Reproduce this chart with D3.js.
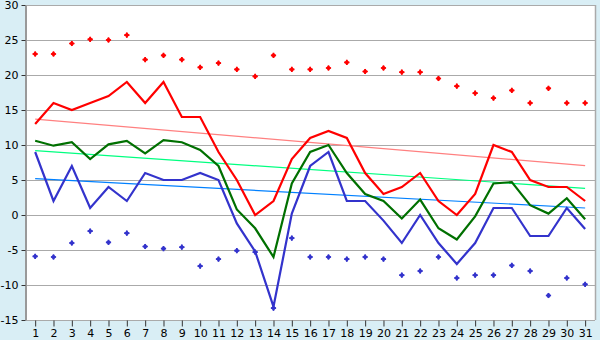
<!DOCTYPE html>
<html><head><meta charset="utf-8">
<script src="https://cdn.jsdelivr.net/npm/d3@7"></script>
<style>
html,body{margin:0;padding:0;background:#d9eef5;}
svg{display:block;}
text{font-family:"DejaVu Sans",Verdana,sans-serif;font-size:11px;fill:#000;}
</style></head><body>
<svg id="c" width="600" height="340"></svg>
<script>
const days = d3.range(1, 32);
const yTicks = [-15, -10, -5, 0, 5, 10, 15, 20, 25, 30];
const maxTemp = [13,16,15,16,17,19,16,19,14,14,9,5,0,2,8,11,12,11,6,3,4,6,2,0,3,10,9,5,4,4,2];
const meanTemp = [10.6,9.9,10.4,8,10.1,10.6,8.8,10.7,10.4,9.3,7,0.8,-1.9,-6,4.5,9,10,6,3,2,-0.5,2.2,-1.9,-3.5,-0.2,4.5,4.7,1.4,0.2,2.4,-0.6];
const minTemp = [9,2,7,1,4,2,6,5,5,6,5,-1.2,-5.2,-13.1,0.2,7,9,2,2,-0.8,-4,0,-4,-7,-4,1,1,-3,-3,1,-2];
const recordMax = [23,23,24.5,25.1,25,25.7,22.2,22.8,22.2,21.1,21.7,20.8,19.8,22.8,20.8,20.8,21,21.8,20.5,21,20.4,20.4,19.5,18.4,17.4,16.7,17.8,16,18.1,16,16];
const recordMin = [-5.9,-6,-4,-2.3,-3.9,-2.6,-4.5,-4.8,-4.6,-7.3,-6.3,-5.1,-5.3,-13.3,-3.3,-6,-6,-6.3,-6,-6.3,-8.6,-8,-6,-9,-8.6,-8.6,-7.2,-8,-11.5,-9,-9.9];
const trendMax = [13.7, 7.05];
const trendMean = [9.2, 3.8];
const trendMin = [5.2, 1.0];

const svg = d3.select("#c");
const L = 26, R = 595, T = 5, B = 320;
const x = d3.scalePoint().domain(days).range([L, R - 0.7]).padding(0.5);
const y = d3.scaleLinear().domain([-15, 30]).range([B, T]);

svg.append("rect").attr("x", L).attr("y", T).attr("width", R - L).attr("height", B - T).attr("fill", "#fff");

// grid
svg.append("g").selectAll("line").data(yTicks).join("line")
  .attr("x1", L).attr("x2", R).attr("y1", d => y(d) + 0.5).attr("y2", d => y(d) + 0.5)
  .attr("stroke", "#aaaaaa").attr("stroke-width", 1);
// right border
svg.append("line").attr("x1", R + 0.5).attr("x2", R + 0.5).attr("y1", T).attr("y2", B)
  .attr("stroke", "#aaaaaa").attr("stroke-width", 1.5);

// axes
const xAxis = svg.append("g").attr("transform", `translate(0,${B + 0.5})`)
  .call(d3.axisBottom(x).tickSize(6).tickSizeOuter(0).tickPadding(3));
xAxis.select(".domain").attr("stroke", "#aaaaaa").attr("d", `M${L},0H${R}`);
xAxis.selectAll(".tick line").attr("stroke", "#333");
const yAxis = svg.append("g").attr("transform", `translate(${L - 0.5},0)`)
  .call(d3.axisLeft(y).tickValues(yTicks).tickSize(4).tickSizeOuter(0).tickPadding(3).tickFormat(d => String(d)));
yAxis.select(".domain").attr("stroke", "#999").attr("stroke-width", 2);
yAxis.selectAll(".tick line").attr("stroke", "#333");
svg.selectAll(".tick text").style("font-family", '"DejaVu Sans",Verdana,sans-serif').style("font-size", "11px").attr("fill", "#000");

// trend lines
function trend(vals, color) {
  svg.append("line").attr("x1", x(1)).attr("x2", x(31))
    .attr("y1", y(vals[0])).attr("y2", y(vals[1]))
    .attr("stroke", color).attr("stroke-width", 1.2);
}
trend(trendMax, "#ff8080");
trend(trendMean, "#00ff80");
trend(trendMin, "#0080ff");

const line = d3.line().x((d, i) => x(days[i])).y(d => y(d));
function series(vals, color) {
  svg.append("path").attr("d", line(vals)).attr("fill", "none")
    .attr("stroke", color).attr("stroke-width", 2.2).attr("stroke-linejoin", "miter");
}
series(maxTemp, "#ff0000");
series(meanTemp, "#007000");
series(minTemp, "#3333cc");

const symA = d3.symbol().type(d3.symbolSquare).size(14);
const symB = d3.symbol().type(d3.symbolCross).size(15);
function dots(vals, color) {
  const g = svg.append("g").selectAll("g").data(vals).join("g")
    .attr("transform", (d, i) => `translate(${x(days[i])},${y(d)})`)
    .attr("fill", color);
  g.append("path").attr("d", symA).attr("transform", "rotate(45)");
  g.append("path").attr("d", symB);
}
dots(recordMax, "#ff0000");
dots(recordMin, "#3333cc");
</script></body></html>
